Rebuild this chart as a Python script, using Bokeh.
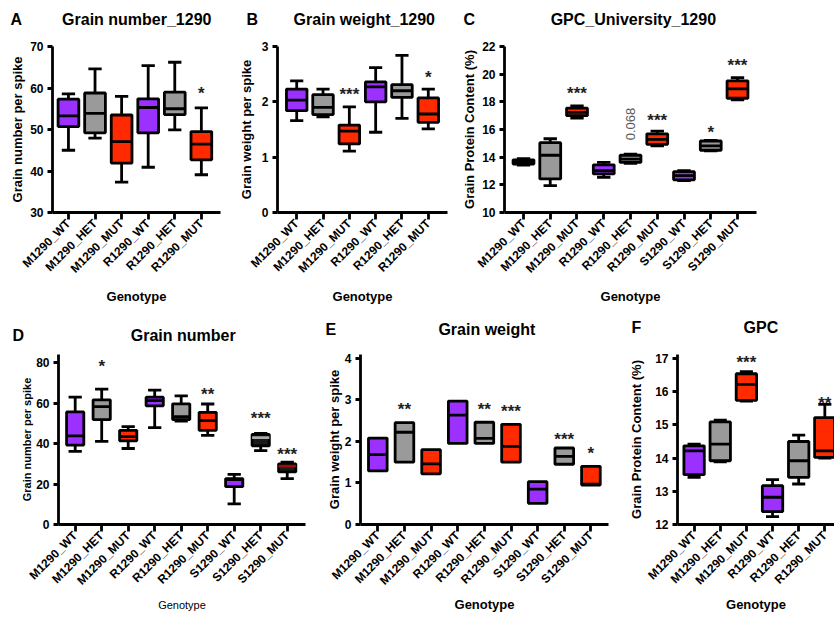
import math
from bokeh.plotting import figure
from bokeh.models import Range1d, FixedTicker, Label, ColumnDataSource
from bokeh.layouts import row, column
from bokeh.embed import file_html
from bokeh.resources import INLINE

FONT = "Liberation Sans"
PURPLE = "#9B30FF"
GRAY = "#9A9A9A"
RED = "#FF2A00"
LW = 2.8
NB = "\u00a0"

cats6 = ["M1290_WT", "M1290_HET", "M1290_MUT", "R1290_WT", "R1290_HET", "R1290_MUT"]
cats9 = cats6 + ["S1290_WT", "S1290_HET", "S1290_MUT"]

A_low = [45.0, 47.9, 37.3, 40.9, 49.9, 39.1]
A_q1 = [50.7, 49.2, 41.9, 49.2, 53.6, 42.7]
A_med = [53.3, 53.9, 47.1, 55.3, 55.0, 46.5]
A_q3 = [57.3, 58.8, 53.5, 57.4, 59.0, 49.5]
A_high = [58.6, 64.6, 58.0, 65.4, 66.2, 55.2]
A_sig_idx = [5]
A_sig_txt = ["*"]
A_sig_y = [59.6]

B_low = [1.66, 1.73, 1.11, 1.45, 1.70, 1.51]
B_q1 = [1.84, 1.77, 1.24, 2.00, 2.08, 1.63]
B_med = [2.03, 1.90, 1.47, 2.27, 2.20, 1.78]
B_q3 = [2.23, 2.13, 1.58, 2.36, 2.31, 2.07]
B_high = [2.38, 2.23, 1.91, 2.62, 2.84, 2.23]
B_sig_idx = [2, 5]
B_sig_txt = ["***", "*"]
B_sig_y = [2.20, 2.51]

C_low = [13.43, 11.95, 16.83, 12.55, 13.55, 14.81, 12.31, 14.45, 18.14]
C_q1 = [13.50, 12.43, 17.00, 12.79, 13.62, 14.93, 12.36, 14.50, 18.26]
C_med = [13.67, 14.14, 17.24, 13.02, 13.86, 15.29, 12.67, 14.81, 18.93]
C_q3 = [13.81, 15.05, 17.55, 13.45, 14.14, 15.69, 12.95, 15.17, 19.52]
C_high = [13.90, 15.33, 17.71, 13.62, 14.21, 15.88, 13.02, 15.21, 19.74]
C_sig_idx = [2, 5, 7, 8]
C_sig_txt = ["***", "***", "*", "***"]
C_sig_y = [18.86, 16.95, 16.10, 20.88]
C_p_idx = 4
C_p_txt = "0.068"
C_p_y = 16.4

D_low = [36.2, 41.1, 37.6, 47.9, 51.1, 44.1, 10.2, 36.5, 22.7]
D_q1 = [39.3, 51.9, 41.4, 58.7, 51.9, 46.6, 18.7, 38.9, 26.0]
D_med = [43.8, 58.3, 43.5, 61.3, 53.3, 51.4, 22.2, 43.0, 28.9]
D_q3 = [55.7, 61.7, 46.6, 63.0, 59.7, 55.5, 22.7, 44.6, 30.0]
D_high = [63.0, 67.0, 48.4, 66.5, 63.6, 59.6, 24.8, 45.1, 30.8]
D_sig_idx = [1, 5, 7, 8]
D_sig_txt = ["*", "**", "***", "***"]
D_sig_y = [80.0, 66.5, 54.4, 36.5]

E_q1 = [1.29, 1.50, 1.22, 1.95, 1.95, 1.50, 0.51, 1.45, 0.95]
E_med = [1.68, 2.22, 1.46, 2.63, 2.07, 1.88, 0.85, 1.64, 0.97]
E_q3 = [2.08, 2.45, 1.80, 2.97, 2.46, 2.41, 1.03, 1.84, 1.40]
E_sig_idx = [1, 4, 5, 7, 8]
E_sig_txt = ["**", "**", "***", "***", "*"]
E_sig_y = [2.87, 2.87, 2.81, 2.14, 1.80]

F_low = [13.42, 13.89, 15.72, 12.24, 13.22, 14.00]
F_q1 = [13.50, 13.92, 15.74, 12.39, 13.42, 14.02]
F_med = [14.22, 14.42, 16.22, 12.82, 13.92, 14.22]
F_q3 = [14.37, 15.09, 16.54, 13.17, 14.50, 15.22]
F_high = [14.42, 15.14, 16.60, 13.35, 14.69, 15.62]
F_sig_idx = [2, 5]
F_sig_txt = ["***", "**"]
F_sig_y = [17.0, 15.77]


def color_for(cat):
    if cat.endswith("_WT"):
        return PURPLE
    if cat.endswith("_HET"):
        return GRAY
    return RED


def make_panel(cats, low, q1, med, q3, high, letter, title, nsp, toff, tlh, ylabel,
               yr, yticks, xr, size, borders, box_w, cap_w,
               sig_idx, sig_txt, sig_y, fill_override=None, med_override=None,
               ylabel_size="13px", ylabel_standoff=3, xlabel_size="13px",
               xlabel_style="bold", xlabel_standoff=6, title_standoff=0):
    fw_, fh_ = size
    bl, br, bt, bb = borders
    p = figure(width=fw_, height=fh_, x_range=Range1d(*xr), y_range=Range1d(*yr),
               output_backend="svg", toolbar_location=None, sizing_mode="fixed",
               min_border_left=bl, min_border_right=br,
               min_border_top=bt, min_border_bottom=bb)
    p.outline_line_color = None
    p.xgrid.visible = False
    p.ygrid.visible = False
    p.background_fill_color = "white"
    p.border_fill_color = "white"

    n = len(cats)
    xs = list(range(n))
    fills = [color_for(c) for c in cats]
    medc = ["black"] * n
    if fill_override:
        for k, v in fill_override.items():
            fills[k] = v
    if med_override:
        for k, v in med_override.items():
            medc[k] = v

    src = ColumnDataSource(dict(
        x=xs, q1=q1, med=med, q3=q3, fill=fills, medc=medc,
        bx0=[i - box_w / 2 for i in xs], bx1=[i + box_w / 2 for i in xs]))

    if low is not None:
        wsrc = ColumnDataSource(dict(
            x=xs, low=low, high=high, q1=q1, q3=q3,
            c0=[i - cap_w / 2 for i in xs], c1=[i + cap_w / 2 for i in xs]))
        kw = dict(source=wsrc, line_color="black", line_width=LW)
        p.segment(x0="x", y0="q3", x1="x", y1="high", **kw)
        p.segment(x0="x", y0="q1", x1="x", y1="low", **kw)
        p.segment(x0="c0", y0="high", x1="c1", y1="high", **kw)
        p.segment(x0="c0", y0="low", x1="c1", y1="low", **kw)

    p.vbar(x="x", width=box_w, bottom="q1", top="q3", source=src,
           fill_color="fill", line_color="black", line_width=LW)
    p.segment(x0="bx0", y0="med", x1="bx1", y1="med", source=src,
              line_color="medc", line_width=LW)

    xa = p.xaxis[0]
    xa.ticker = FixedTicker(ticks=xs)
    xa.major_label_overrides = {i: c for i, c in enumerate(cats)}
    xa.major_label_orientation = math.pi / 4
    xa.major_label_text_font = FONT
    xa.major_label_text_font_size = "12px"
    xa.major_label_text_font_style = "bold"
    xa.major_label_text_color = "black"
    xa.major_label_standoff = 2
    xa.major_tick_out = 7
    xa.major_tick_in = 0
    xa.minor_tick_out = 0
    xa.minor_tick_in = 0
    xa.major_tick_line_width = LW
    xa.axis_line_width = LW
    xa.axis_label = "Genotype"
    xa.axis_label_text_font = FONT
    xa.axis_label_text_font_size = xlabel_size
    xa.axis_label_text_font_style = xlabel_style
    xa.axis_label_text_color = "black"
    xa.axis_label_standoff = xlabel_standoff

    ya = p.yaxis[0]
    ya.ticker = FixedTicker(ticks=yticks)
    ya.major_label_text_font = FONT
    ya.major_label_text_font_size = "12px"
    ya.major_label_text_font_style = "bold"
    ya.major_label_text_color = "black"
    ya.major_label_standoff = 4
    ya.major_tick_out = 5
    ya.major_tick_in = 0
    ya.minor_tick_out = 0
    ya.minor_tick_in = 0
    ya.major_tick_line_width = LW
    ya.axis_line_width = LW
    ya.axis_label = ylabel
    ya.axis_label_text_font = FONT
    ya.axis_label_text_font_size = ylabel_size
    ya.axis_label_text_font_style = "bold"
    ya.axis_label_text_color = "black"
    ya.axis_label_standoff = ylabel_standoff

    # panel letter + title share one title line; a blank second line lifts it
    p.title.text = letter + NB * nsp + title + "\n" + NB
    p.title.align = "left"
    p.title.offset = toff
    p.title.vertical_align = "bottom"
    p.title.text_font = FONT
    p.title.text_font_size = "16px"
    p.title.text_font_style = "bold"
    p.title.text_color = "black"
    p.title.text_line_height = tlh
    p.title.standoff = title_standoff

    fhei = fh_ - bt - bb
    uy = (yr[1] - yr[0]) / fhei
    for i, t, yv in zip(sig_idx, sig_txt, sig_y):
        p.add_layout(Label(x=i, y=yv - 4 * uy, text=t, text_font=FONT,
                           text_font_size="17px", text_font_style="bold",
                           text_color="#222222",
                           text_align="center", text_baseline="middle"))
    return p


pA = make_panel(cats6, A_low, A_q1, A_med, A_q3, A_high, "A", "Grain number_1290", 9, -42, 1.08,
                "Grain number per spike", (30, 70), [30, 40, 50, 60, 70],
                (-0.60, 5.72), (226, 311), (52, 6, 46, 98), 0.78, 0.5,
                A_sig_idx, A_sig_txt, A_sig_y, ylabel_standoff=2, xlabel_standoff=6)
pB = make_panel(cats6, B_low, B_q1, B_med, B_q3, B_high, "B", "Grain weight_1290", 8, -31, 1.07,
                "Grain weight per spike", (0, 3), [0, 1, 2, 3],
                (-0.73, 5.73), (226, 311), (51, 5, 46, 99), 0.78, 0.5,
                B_sig_idx, B_sig_txt, B_sig_y, ylabel_standoff=5, xlabel_standoff=6)
pC = make_panel(cats9, C_low, C_q1, C_med, C_q3, C_high, "C", "GPC_University_1290", 17, -41, 1.11,
                "Grain Protein Content (%)", (10, 22), [10, 12, 14, 16, 18, 20, 22],
                (-0.71, 8.71), (382, 311), (52, 78, 44, 99), 0.78, 0.5,
                C_sig_idx, C_sig_txt, C_sig_y, ylabel_standoff=2, xlabel_standoff=6)
pC.add_layout(Label(x=C_p_idx, y=C_p_y, text=C_p_txt, angle=math.pi / 2,
                    text_font=FONT, text_font_size="13px", text_color="#5a5a5a",
                    text_align="center", text_baseline="middle"))
pD = make_panel(cats9, D_low, D_q1, D_med, D_q3, D_high, "D", "Grain number", 24, -46, 0.79,
                "Grain number per spike", (0, 84.1), [0, 20, 40, 60, 80],
                (-0.63, 8.69), (318, 308), (58, 13, 43, 95), 0.65, 0.5,
                D_sig_idx, D_sig_txt, D_sig_y,
                fill_override={7: "#1a1a1a", 8: "#1a1a1a"},
                med_override={7: "#aaaaaa", 8: "#991100"},
                ylabel_size="11px", ylabel_standoff=0, xlabel_size="11px",
                xlabel_style="normal", xlabel_standoff=4, title_standoff=-6)
pE = make_panel(cats9, None, E_q1, E_med, E_q3, None, "E", "Grain weight", 23, -35, 1.0,
                "Grain weight per spike", (0, 4.09), [0, 1, 2, 3, 4],
                (-0.65, 8.66), (297, 308), (42, 7, 43, 95), 0.7, 0.5,
                E_sig_idx, E_sig_txt, E_sig_y, ylabel_standoff=0, xlabel_standoff=2)
pF = make_panel(cats6, F_low, F_q1, F_med, F_q3, F_high, "F", "GPC", 23, -46, 1.07,
                "Grain Protein Content (%)", (12, 17.12), [12, 13, 14, 15, 16, 17],
                (-0.635, 5.37), (219, 308), (62, 0, 43, 95), 0.78, 0.5,
                F_sig_idx, F_sig_txt, F_sig_y, ylabel_standoff=8, xlabel_standoff=2)

layout = column(row(pA, pB, pC), row(pD, pE, pF))
open("out.html", "w").write(file_html(layout, INLINE))
